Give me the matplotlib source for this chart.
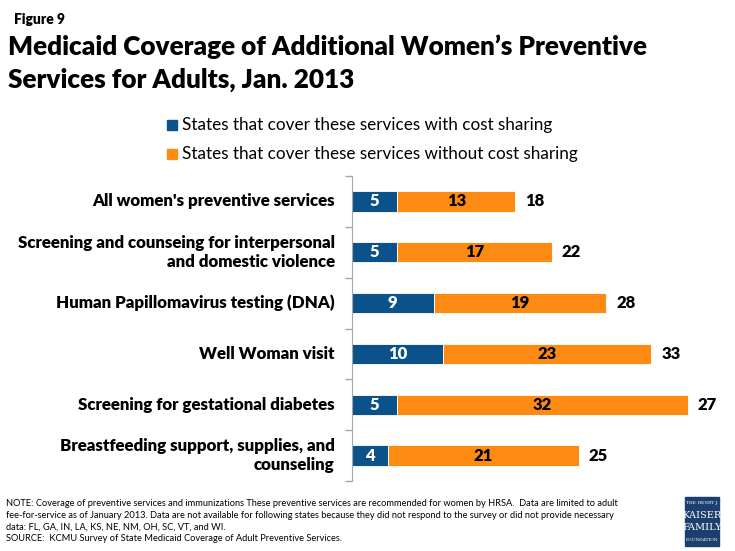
import matplotlib.pyplot as plt
import numpy as np

categories = [
    "All women's preventive services",
    "Screening and counseing for interpersonal\nand domestic violence",
    "Human Papillomavirus testing (DNA)",
    "Well Woman visit",
    "Screening for gestational diabetes",
    "Breastfeeding support, supplies, and\ncounseling",
]
with_cost = [5, 5, 9, 10, 5, 4]
without_cost = [13, 17, 19, 23, 32, 21]
total_labels = ["18", "22", "28", "33", "27", "25"]

blue = '#0a5289'
orange = '#fd8b13'
font = ['Lato', 'DejaVu Sans']
plt.rcParams['font.family'] = font

fig = plt.figure(figsize=(7.35, 5.51), dpi=100)
ax = fig.add_axes([352/735, 1-481/551, 372/735, 305/551])

y = np.arange(len(categories))
ax.barh(y, with_cost, height=0.4, color=blue, edgecolor='white', linewidth=0.6)
ax.barh(y, without_cost, left=with_cost, height=0.4, color=orange, edgecolor='white', linewidth=0.6)

for i in range(len(categories)):
    ax.text(with_cost[i]/2, y[i], str(with_cost[i]), ha='center', va='center',
            color='white', fontsize=12, fontweight='heavy')
    ax.text(with_cost[i] + without_cost[i]/2, y[i], str(without_cost[i]), ha='center',
            va='center', color='black', fontsize=12, fontweight='heavy')
    ax.text(with_cost[i] + without_cost[i] + 1.1, y[i], total_labels[i], ha='left',
            va='center', color='black', fontsize=12, fontweight='heavy')

ax.set_xlim(0, 41)
ax.set_ylim(len(categories) - 0.5, -0.5)
ax.set_yticks(np.arange(-0.5, len(categories)))
ax.set_yticklabels([])
ax.tick_params(axis='y', length=5, color='#a6a6a6', width=1)
for i, c in enumerate(categories):
    ax.text(-1.9, y[i], c, ha='right', va='center', fontsize=12.2, fontweight='heavy',
            linespacing=1.25)
ax.set_xticks([])
for s in ['top', 'right', 'bottom']:
    ax.spines[s].set_visible(False)
ax.spines['left'].set_color('#a6a6a6')

fig.text(14/735, 1-20/551, "Figure 9", fontsize=10, fontweight='heavy', va='center')
fig.text(8/735, 1-47/551, "Medicaid Coverage of Additional Women\u2019s Preventive",
         fontsize=18.8, fontweight='heavy', va='center')
fig.text(8/735, 1-80/551, "Services for Adults, Jan. 2013",
         fontsize=18.8, fontweight='heavy', va='center')

fig.patches.append(plt.Rectangle((167/735, 1-130/551), 10/735, 10/551, color=blue,
                                 transform=fig.transFigure, figure=fig))
fig.patches.append(plt.Rectangle((167/735, 1-159/551), 10/735, 10/551, color=orange,
                                 transform=fig.transFigure, figure=fig))
fig.text(182/735, 1-125/551, "States that cover these services with cost sharing",
         fontsize=12.3, va='center')
fig.text(182/735, 1-154/551, "States that cover these services without cost sharing",
         fontsize=12.3, va='center')

note = ("NOTE: Coverage of preventive services and immunizations These preventive services are recommended for women by HRSA.  Data are limited to adult\n"
        "fee-for-service as of January 2013. Data are not available for following states because they did not respond to the survey or did not provide necessary\n"
        "data: FL, GA, IN, LA, KS, NE, NM, OH, SC, VT, and WI.\n"
        "SOURCE:  KCMU Survey of State Medicaid Coverage of Adult Preventive Services.")
fig.text(6/735, 1-499/551, note, fontsize=6.65, va='top', linespacing=1.4)

fig.patches.append(plt.Rectangle((685/735, 1-546/551), 34/735, 49/551, color='#1d3f6e',
                                 transform=fig.transFigure, figure=fig))
fig.text(702/735, 1-503/551, "THE HENRY J.", fontsize=3.2, color='white', ha='center',
         va='center', family='DejaVu Serif')
fig.text(702/735, 1-515/551, "KAISER", fontsize=7, color='white', ha='center',
         va='center', family='DejaVu Serif')
fig.text(702/735, 1-528/551, "FAMILY", fontsize=7, color='white', ha='center',
         va='center', family='DejaVu Serif')
fig.text(702/735, 1-540/551, "FOUNDATION", fontsize=3.2, color='white', ha='center',
         va='center', family='DejaVu Serif')

fig.savefig('out.png', dpi=100)
